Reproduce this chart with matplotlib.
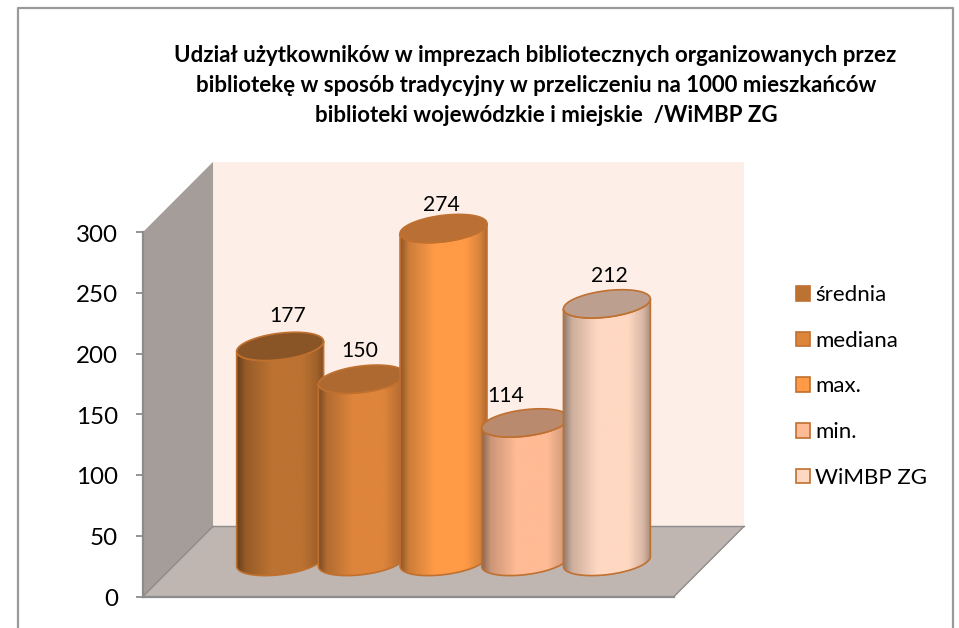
import numpy as np
import matplotlib
matplotlib.use('Agg')
import matplotlib.pyplot as plt
from matplotlib.colors import LinearSegmentedColormap, to_rgb
from matplotlib.lines import Line2D
from matplotlib.patches import Patch, Polygon, PathPatch
from matplotlib.path import Path
from matplotlib.transforms import Affine2D, ScaledTranslation

# dane
categories = ['średnia', 'mediana', 'max.', 'min.', 'WiMBP ZG']
values = [177, 150, 274, 114, 212]
y_ticks = [0, 50, 100, 150, 200, 250, 300]
title_lines = ['Udział użytkowników w imprezach bibliotecznych organizowanych przez',
               'bibliotekę w sposób tradycyjny w przeliczeniu na 1000 mieszkańców',
               'biblioteki wojewódzkie i miejskie  /WiMBP ZG']

# kolory
body_colors = ['#BC7232', '#DE853C', '#FF9B47', '#FFBB95', '#FFD8C2']
top_colors = ['#8A5526', '#AD692F', '#BA7035', '#B98A6E', '#BC9F8E']
edge_color = '#C0702F'
wall_color = '#FDEEE7'
side_color = '#A59D99'
floor_color = '#BFB5B1'
axis_color = '#8C8C8C'

plt.rcParams['font.family'] = ['Lato', 'DejaVu Sans']

W, H = 959, 628
fig = plt.figure(figsize=(W / 100, H / 100), dpi=100)
px = Affine2D().scale(1 / W, -1 / H).translate(0, 1) + fig.transFigure

# ramka wykresu (dol ucina sie na krawedzi)
fig.add_artist(Line2D([17.5, 17.5, 952.5, 952.5], [628, 7.5, 7.5, 628],
                      color='#9A9A9A', lw=1.6, transform=px))

ax = fig.add_axes([143 / W, (H - 596.5) / H, 531 / W, 364.5 / H])
ax.patch.set_visible(False)
XMIN, XMAX = -1.25, 5.25

# przesuniecie w glab (rzut ukosny)
DEPTH_X = 0.857
DEPTH_Y = 57.7
HALF_W = 0.532
TILT = 4.1
HALF_H = 10.9


def proj(x, y, d):
    return (x + d * DEPTH_X, y + d * DEPTH_Y)


def ellipse(i, v, t):
    cx, cy = proj(i, v, 0.5)
    return np.column_stack([cx + HALF_W * np.cos(t),
                            cy + TILT * np.cos(t) + HALF_H * np.sin(t)])


# sciany i podloga
ax.add_patch(Polygon([proj(XMIN, 0, 1), proj(XMAX, 0, 1), proj(XMAX, 300, 1), proj(XMIN, 300, 1)],
                     fc=wall_color, ec='none', clip_on=False, zorder=1))
ax.add_patch(Polygon([proj(XMIN, 0, 0), proj(XMIN, 0, 1), proj(XMIN, 300, 1), proj(XMIN, 300, 0)],
                     fc=side_color, ec='none', clip_on=False, zorder=1))
ax.add_patch(Polygon([proj(XMIN, 0, 0), proj(XMAX, 0, 0), proj(XMAX, 0, 1), proj(XMIN, 0, 1)],
                     fc=floor_color, ec='none', clip_on=False, zorder=1))
# krawedzie podlogi
for a, b in [(proj(XMIN, 0, 0), proj(XMIN, 0, 1)),
             (proj(XMIN, 0, 1), proj(XMAX, 0, 1)),
             (proj(XMAX, 0, 0), proj(XMAX, 0, 1))]:
    ax.plot([a[0], b[0]], [a[1], b[1]], color=axis_color, lw=1, clip_on=False, zorder=1.5)

# walce
stops = [0, 0.1, 0.4, 0.75, 0.92, 1]
shade = [0.55, 0.8, 1.0, 1.0, 0.85, 0.68]
label_dx = [8, -2, -2, -20, 2]
label_dy = [30, 28, 24, 27, 28]
lower = np.linspace(np.pi, 2 * np.pi, 60)
full = np.linspace(0, 2 * np.pi, 120)
grad = np.linspace(0, 1, 256).reshape(1, -1)

for i, v in enumerate(values):
    z = 2 + i
    base = to_rgb(body_colors[i])
    cmap = LinearSegmentedColormap.from_list(
        'c%d' % i, [(s, tuple(np.array(base) * m)) for s, m in zip(stops, shade)])
    body = np.vstack([ellipse(i, 0, lower), ellipse(i, v, lower[::-1])])
    outline = PathPatch(Path(np.vstack([body, body[:1]]), closed=True), fc='none', ec=edge_color,
                        lw=1.2, clip_on=False, zorder=z + 0.2)
    ax.add_patch(outline)
    cx = proj(i, 0, 0.5)[0]
    im = ax.imshow(grad, cmap=cmap, aspect='auto', zorder=z + 0.1, interpolation='bilinear',
                   extent=[cx - HALF_W, cx + HALF_W, 0, 300 + DEPTH_Y])
    im.set_clip_path(outline)
    im.set_clip_box(fig.bbox)
    ax.add_patch(Polygon(ellipse(i, v, full), fc=top_colors[i], ec=edge_color, lw=1.2,
                         clip_on=False, zorder=z + 0.3))
    ax.annotate(str(v), xy=proj(i, v, 0.5), xytext=(label_dx[i] * 0.72, label_dy[i] * 0.72),
                textcoords='offset points', ha='center', va='center', fontsize=15.2,
                color='black', zorder=20, annotation_clip=False)

ax.set_xlim(XMIN, XMAX)
ax.set_ylim(0, 300)
ax.set_xticks([])
ax.set_yticks(y_ticks)
ax.tick_params(axis='y', length=5, width=1.3, color=axis_color, pad=13, labelsize=17.4, labelcolor='black')
shift = ScaledTranslation(0, -1 / 100, fig.dpi_scale_trans)
for lab in ax.get_yticklabels():
    lab.set_transform(lab.get_transform() + shift)
for s in ['top', 'right']:
    ax.spines[s].set_visible(False)
for s in ['left', 'bottom']:
    ax.spines[s].set_color(axis_color)
    ax.spines[s].set_linewidth(1.6)
    ax.spines[s].set_zorder(1.6)

# tytul
for line, tx, ty in zip(title_lines, [535.5, 536, 546], [56, 86, 116]):
    fig.text(tx, ty, line, transform=px, ha='center', va='center', fontsize=16, fontweight='bold',
             color='black')

# legenda
handles = [Patch(fc=c, ec=edge_color, lw=1.2) for c in body_colors]
fig.legend(handles, categories, loc='upper left', bbox_to_anchor=(787 / W, 1 - 276.5 / H),
           frameon=False, fontsize=16, handlelength=0.63, handleheight=0.63, handletextpad=0.25,
           labelspacing=1.15, borderpad=0.4, borderaxespad=0)

fig.savefig('out.png', dpi=100)
